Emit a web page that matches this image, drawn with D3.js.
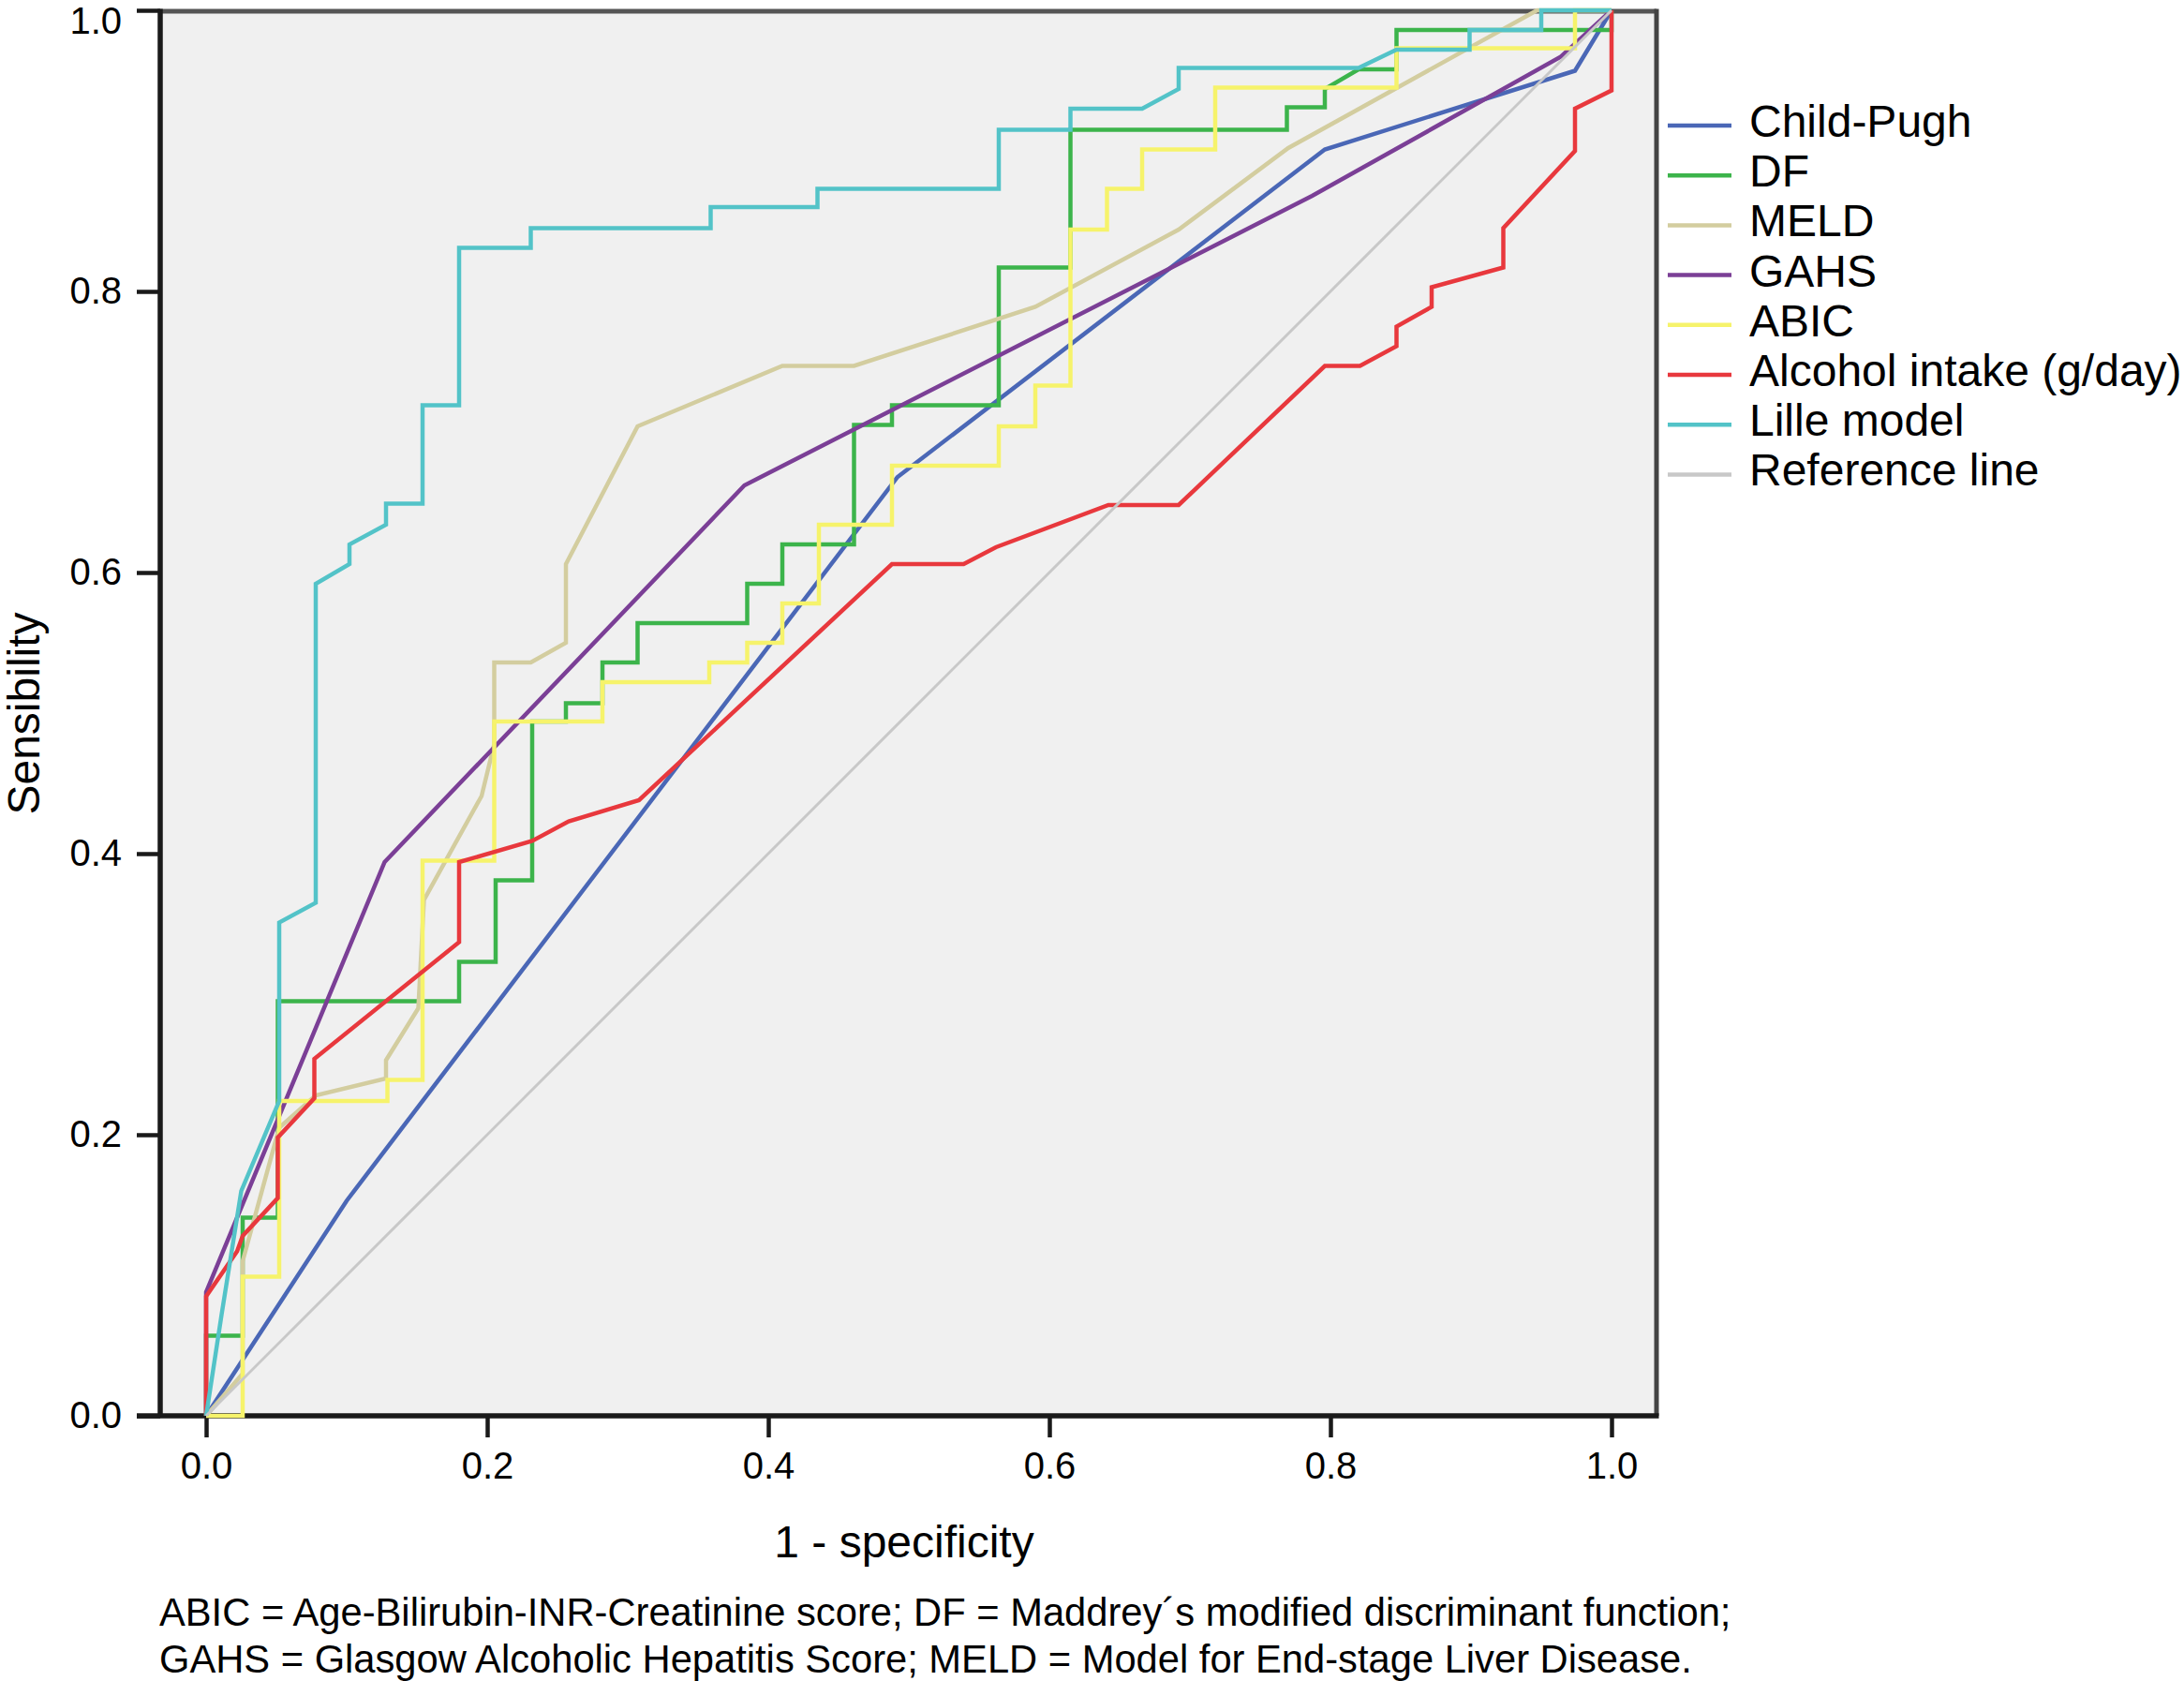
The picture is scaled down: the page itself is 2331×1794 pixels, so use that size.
<!DOCTYPE html>
<meta charset="utf-8">
<script src="https://d3js.org/d3.v7.min.js"></script>
<style>
  body { margin: 0; background: #fff; }
  text { font-family: "Liberation Sans", Arial, sans-serif; fill: #000; }
</style>
<div id="chart"></div>
<script>
// ROC points: [1 - specificity, sensibility]
var childPugh = [[0,0],[0.100,0.153],[0.492,0.668],[0.796,0.901],[0.974,0.957],[1,1]];

var df = [[0,0],[0,0.057],[0.026,0.057],[0.026,0.141],[0.051,0.141],[0.051,0.295],[0.180,0.295],
  [0.180,0.323],[0.206,0.323],[0.206,0.381],[0.232,0.381],[0.232,0.494],[0.256,0.494],[0.256,0.507],
  [0.282,0.507],[0.282,0.536],[0.307,0.536],[0.307,0.564],[0.385,0.564],[0.385,0.592],[0.410,0.592],
  [0.410,0.620],[0.461,0.620],[0.461,0.705],[0.488,0.705],[0.488,0.719],[0.564,0.719],[0.564,0.817],
  [0.615,0.817],[0.615,0.915],[0.769,0.915],[0.769,0.931],[0.796,0.931],[0.796,0.944],[0.820,0.958],
  [0.847,0.958],[0.847,0.986],[1,0.986],[1,1]];

var meld = [[0,0],[0.026,0.030],[0.026,0.110],[0.052,0.205],[0.078,0.228],[0.128,0.240],[0.128,0.253],
  [0.151,0.290],[0.155,0.367],[0.196,0.441],[0.205,0.478],[0.205,0.536],[0.231,0.536],[0.256,0.550],
  [0.256,0.606],[0.307,0.704],[0.410,0.747],[0.461,0.747],[0.590,0.789],[0.692,0.844],[0.770,0.902],
  [0.947,1],[1,1]];

var gahs = [[0,0],[0,0.088],[0.127,0.394],[0.383,0.662],[0.787,0.868],[0.964,0.967],[1,1]];

var abic = [[0,0],[0.026,0],[0.026,0.099],[0.052,0.099],[0.052,0.224],[0.129,0.224],[0.129,0.239],
  [0.154,0.239],[0.154,0.395],[0.205,0.395],[0.205,0.494],[0.282,0.494],[0.282,0.522],[0.358,0.522],
  [0.358,0.536],[0.385,0.536],[0.385,0.550],[0.410,0.550],[0.410,0.578],[0.436,0.578],[0.436,0.634],
  [0.488,0.634],[0.488,0.676],[0.564,0.676],[0.564,0.704],[0.590,0.704],[0.590,0.733],[0.615,0.733],
  [0.615,0.844],[0.641,0.844],[0.641,0.873],[0.666,0.873],[0.666,0.901],[0.718,0.901],[0.718,0.945],
  [0.847,0.945],[0.847,0.973],[0.974,0.973],[0.974,1],[1,1]];

var alcohol = [[0,0],[0,0.085],[0.022,0.117],[0.026,0.128],[0.051,0.155],[0.051,0.198],[0.077,0.226],
  [0.077,0.254],[0.180,0.337],[0.180,0.394],[0.232,0.409],[0.258,0.423],[0.308,0.438],[0.488,0.606],
  [0.539,0.606],[0.562,0.618],[0.642,0.648],[0.692,0.648],[0.796,0.747],[0.821,0.747],[0.847,0.761],
  [0.847,0.775],[0.872,0.789],[0.872,0.803],[0.923,0.817],[0.923,0.845],[0.974,0.900],[0.974,0.930],
  [1,0.943],[1,1]];

var lille = [[0,0],[0.011,0.072],[0.025,0.160],[0.052,0.224],[0.052,0.351],[0.078,0.365],[0.078,0.592],
  [0.102,0.606],[0.102,0.620],[0.128,0.634],[0.128,0.649],[0.154,0.649],[0.154,0.719],[0.180,0.719],
  [0.180,0.831],[0.231,0.831],[0.231,0.845],[0.359,0.845],[0.359,0.860],[0.435,0.860],[0.435,0.873],
  [0.564,0.873],[0.564,0.915],[0.615,0.915],[0.615,0.930],[0.666,0.930],[0.692,0.944],[0.692,0.959],
  [0.820,0.959],[0.847,0.972],[0.899,0.972],[0.899,0.986],[0.950,0.986],[0.950,1],[1,1]];

var referenceLine = [[0,0],[1,1]];

var seriesNames = ["Child-Pugh", "DF", "MELD", "GAHS", "ABIC", "Alcohol intake (g/day)", "Lille model", "Reference line"];
var seriesData = [childPugh, df, meld, gahs, abic, alcohol, lille, referenceLine];
var seriesColors = ["#4a67b6", "#3cb44b", "#d3cd9f", "#7b3f96", "#f6f36b", "#e8383d", "#53c3c8", "#c8c8c8"];

var tickValues = [0, 0.2, 0.4, 0.6, 0.8, 1.0];
var xTitle = "1 - specificity";
var yTitle = "Sensibility";
var footnote = [
  "ABIC = Age-Bilirubin-INR-Creatinine score; DF = Maddrey\u00b4s modified discriminant function;",
  "GAHS = Glasgow Alcoholic Hepatitis Score; MELD = Model for End-stage Liver Disease."
];

var width = 2331, height = 1794;
var frame = {left: 171, right: 1768, top: 12, bottom: 1511};

var svg = d3.select("#chart")
  .append("svg")
    .attr("width", width)
    .attr("height", height);

var x = d3.scaleLinear().domain([0, 1]).range([220, 1720]);
var y = d3.scaleLinear().domain([0, 1]).range([1511, 11]);

// plot background
svg.append("rect")
  .attr("x", frame.left)
  .attr("y", frame.top)
  .attr("width", frame.right - frame.left)
  .attr("height", frame.bottom - frame.top)
  .attr("fill", "#f0f0f0");

// frame: top / right grey, left / bottom black
svg.append("line")
  .attr("x1", frame.left).attr("x2", frame.right)
  .attr("y1", frame.top).attr("y2", frame.top)
  .attr("stroke", "#555").attr("stroke-width", 5);
svg.append("line")
  .attr("x1", frame.right).attr("x2", frame.right)
  .attr("y1", frame.top - 2.5).attr("y2", frame.bottom)
  .attr("stroke", "#444").attr("stroke-width", 5);

// axes
var yAxis = svg.append("g")
  .attr("transform", "translate(" + frame.left + ",0)")
  .call(d3.axisLeft(y).tickValues(tickValues).tickFormat(d3.format(".1f"))
    .tickSize(25).tickSizeOuter(0).tickPadding(16));
yAxis.select(".domain").remove();

var xAxis = svg.append("g")
  .attr("transform", "translate(0," + frame.bottom + ")")
  .call(d3.axisBottom(x).tickValues(tickValues).tickFormat(d3.format(".1f"))
    .tickSize(23).tickSizeOuter(0).tickPadding(16));
xAxis.select(".domain").remove();

svg.selectAll(".tick line").attr("stroke", "#1a1a1a").attr("stroke-width", 4.5);
svg.selectAll(".tick text")
  .attr("font-family", "'Liberation Sans', Arial, sans-serif")
  .attr("font-size", 40)
  .attr("fill", "#000");
// top label sits a little lower in the original
yAxis.selectAll(".tick text").filter(d => d === 1).attr("dy", "0.6em");

svg.append("line")
  .attr("x1", frame.left).attr("x2", frame.left)
  .attr("y1", frame.top - 2.5).attr("y2", frame.bottom)
  .attr("stroke", "#1a1a1a").attr("stroke-width", 5.5);
svg.append("line")
  .attr("x1", frame.left - 25).attr("x2", frame.right + 2.5)
  .attr("y1", frame.bottom).attr("y2", frame.bottom)
  .attr("stroke", "#1a1a1a").attr("stroke-width", 5.5);

// ROC curves (reference line drawn last, as in the original)
var line = d3.line()
  .x(d => x(d[0]))
  .y(d => y(d[1]));

var order = [0, 1, 2, 3, 4, 5, 6, 7];
svg.append("g")
  .selectAll("path")
  .data(order)
  .join("path")
    .attr("d", i => line(seriesData[i]))
    .attr("fill", "none")
    .attr("stroke", i => seriesColors[i])
    .attr("stroke-width", i => i === 7 ? 3 : 4.5)
    .attr("stroke-linejoin", "miter");

// legend
var legend = svg.append("g")
  .selectAll("g")
  .data(seriesNames)
  .join("g")
    .attr("transform", (d, i) => "translate(1780," + (134 + i * 53.2) + ")");
legend.append("line")
  .attr("x1", 0).attr("x2", 68)
  .attr("stroke", (d, i) => seriesColors[i])
  .attr("stroke-width", 4.5);
legend.append("text")
  .attr("x", 87)
  .attr("y", 12)
  .attr("font-size", 48)
  .text(d => d);

// axis titles
svg.append("text")
  .attr("text-anchor", "middle")
  .attr("x", 965)
  .attr("y", 1662)
  .attr("font-size", 48)
  .text(xTitle);

svg.append("text")
  .attr("text-anchor", "middle")
  .attr("transform", "translate(42," + (frame.top + frame.bottom) / 2 + ") rotate(-90)")
  .attr("font-size", 48)
  .text(yTitle);

// footnote
svg.append("g")
  .selectAll("text")
  .data(footnote)
  .join("text")
    .attr("x", 170)
    .attr("y", (d, i) => 1735 + i * 50)
    .attr("font-size", 41.7)
    .text(d => d);
</script>
